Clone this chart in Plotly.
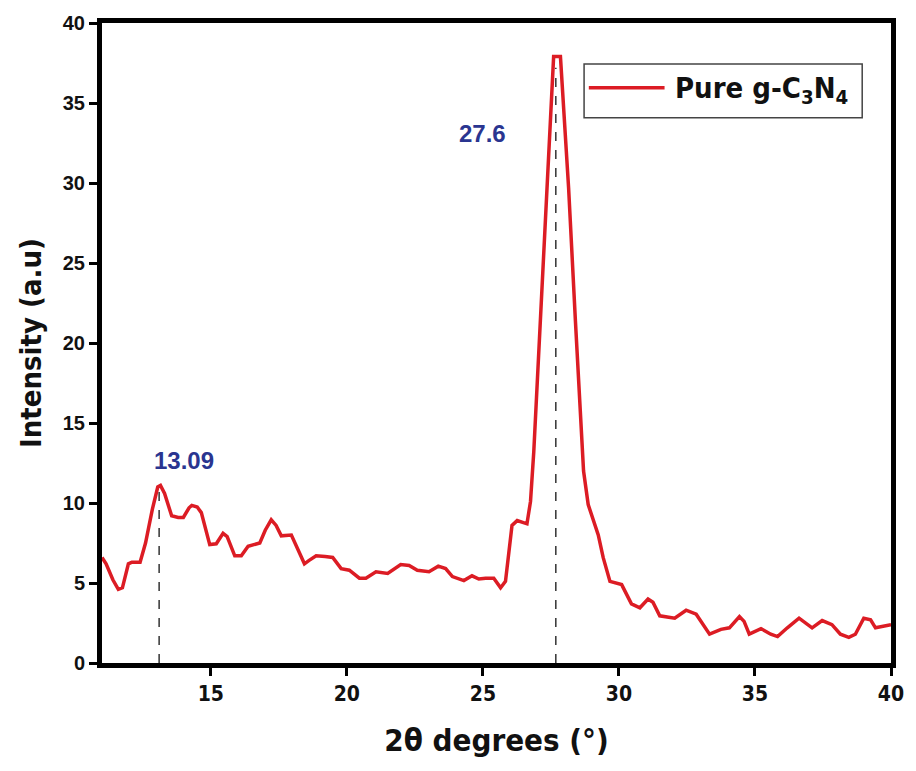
import plotly.graph_objects as go

two_theta = [11.0, 11.15, 11.4, 11.6, 11.75, 11.97, 12.1, 12.4, 12.6, 12.85, 13.05, 13.15, 13.3, 13.56,
             13.8, 13.99, 14.2, 14.3, 14.5, 14.65, 14.96, 15.2, 15.45, 15.6, 15.88, 16.12, 16.37, 16.8,
             17.0, 17.22, 17.4, 17.59, 17.96, 18.2, 18.44, 18.6, 18.87, 19.2, 19.48, 19.79, 20.09, 20.46,
             20.7, 21.07, 21.5, 21.98, 22.29, 22.59, 23.02, 23.36, 23.63, 23.88, 24.3, 24.6, 24.85, 25.1,
             25.4, 25.65, 25.83, 26.07, 26.26, 26.62, 26.75, 26.87, 27.11, 27.36, 27.48, 27.6, 27.85,
             27.97, 28.15, 28.4, 28.7, 28.87, 29.24, 29.42, 29.67, 30.1, 30.46, 30.77, 31.07, 31.25,
             31.5, 32.05, 32.47, 32.84, 33.33, 33.75, 34.06, 34.43, 34.6, 34.79, 35.22, 35.58, 35.83,
             36.19, 36.62, 37.1, 37.47, 37.83, 38.14, 38.45, 38.69, 39.0, 39.25, 39.43, 39.92, 40.0]
intensity = [6.6, 6.2, 5.2, 4.6, 4.7, 6.2, 6.3, 6.3, 7.5, 9.6, 11.0, 11.1, 10.6, 9.2,
             9.1, 9.1, 9.7, 9.85, 9.75, 9.4, 7.4, 7.45, 8.1, 7.9, 6.7, 6.7, 7.3, 7.5,
             8.3, 8.95, 8.6, 7.95, 8.0, 7.1, 6.2, 6.4, 6.7, 6.65, 6.6, 5.9, 5.8, 5.3,
             5.3, 5.7, 5.6, 6.15, 6.1, 5.8, 5.7, 6.05, 5.9, 5.4, 5.15, 5.45, 5.25, 5.3,
             5.3, 4.7, 5.1, 8.6, 8.9, 8.7, 10.1, 13.2, 21.4, 29.7, 34.9, 37.9, 37.9,
             34.9, 29.7, 21.4, 12.0, 9.9, 8.0, 6.6, 5.1, 4.9, 3.7, 3.45, 4.0, 3.8,
             2.95, 2.8, 3.3, 3.05, 1.8, 2.1, 2.2, 2.9, 2.6, 1.8, 2.15, 1.8, 1.65,
             2.2, 2.8, 2.2, 2.65, 2.4, 1.8, 1.6, 1.8, 2.8, 2.7, 2.2, 2.35, 2.4]

peak_pos = [13.1, 27.68]
peak_top = [11.0, 37.2]
peak_labels = ["13.09", "27.6"]
label_x = [14.02, 25.0]
label_y = [12.65, 33.1]

x_ticks = [15, 20, 25, 30, 35, 40]
y_ticks = [0, 5, 10, 15, 20, 25, 30, 35, 40]

FONT = "DejaVu Sans Condensed, Liberation Sans Narrow, Liberation Sans, Arial, sans-serif"
FONT_REG = "Liberation Sans, Arial, sans-serif"
RED = "#dc1c24"

fig = go.Figure()
fig.add_trace(go.Scatter(x=two_theta, y=intensity, mode="lines",
                         line=dict(color=RED, width=3.5), name="Pure g-C3N4",
                         showlegend=False))

shapes = []
for px, pt in zip(peak_pos, peak_top):
    shapes.append(dict(type="line", xref="x", yref="y", x0=px, x1=px, y0=0, y1=pt,
                       line=dict(color="#333333", width=1.5, dash="dash"), layer="below"))

# legend box drawn manually
shapes.append(dict(type="rect", xref="paper", yref="paper", x0=0.611, x1=0.9635, y0=0.852, y1=0.936,
                   line=dict(color="#444444", width=1.5), fillcolor="white"))
shapes.append(dict(type="line", xref="paper", yref="paper", x0=0.617, x1=0.713, y0=0.899, y1=0.899,
                   line=dict(color=RED, width=3.5)))

annotations = []
for lx, ly, lt in zip(label_x, label_y, peak_labels):
    annotations.append(dict(x=lx, y=ly, xref="x", yref="y", text=lt,
                            showarrow=False,
                            font=dict(family=FONT_REG, size=24, color="#2a3590", weight="bold")))
annotations.append(dict(x=0.724, y=0.896, xref="paper", yref="paper", xanchor="left", yanchor="middle",
                        text="Pure g-C<sub>3</sub>N<sub>4</sub>", showarrow=False,
                        font=dict(family=FONT, size=29, color="#111111", weight="bold")))

fig.update_layout(
    width=916, height=771,
    margin=dict(l=102, r=20, t=22, b=108),
    plot_bgcolor="white", paper_bgcolor="white",
    shapes=shapes, annotations=annotations,
    xaxis=dict(range=[11, 40], tickvals=x_ticks, ticks="outside", ticklen=8, tickwidth=3,
               tickcolor="black", showline=True, linecolor="black", linewidth=5, mirror=True,
               showgrid=False, zeroline=False,
               tickfont=dict(family=FONT, size=21, color="#111111", weight="bold"),
               title=dict(text="2θ degrees (°)",
                          font=dict(family=FONT, size=31, color="#111111", weight="bold"),
                          standoff=26)),
    yaxis=dict(range=[0, 40], tickvals=y_ticks, ticks="outside", ticklen=8, tickwidth=3,
               tickcolor="black", showline=True, linecolor="black", linewidth=5, mirror=True,
               showgrid=False, zeroline=False,
               tickfont=dict(family=FONT_REG, size=20, color="#111111", weight="bold"),
               title=dict(text="Intensity (a.u)",
                          font=dict(family=FONT, size=29, color="#111111", weight="bold"),
                          standoff=14)),
)

fig.write_html("out.html")
